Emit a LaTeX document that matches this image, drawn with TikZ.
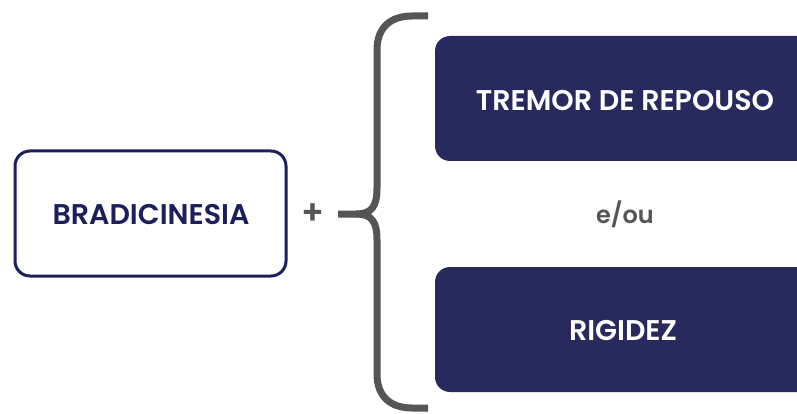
\documentclass[tikz,border=0pt]{standalone}
\usepackage{fontspec}
\newfontfamily\popm{Poppins SemiBold}
\begin{document}
\begin{tikzpicture}[x=1pt,y=-1pt,
  label/.style={font=\popm\fontsize{28.5}{32}\selectfont},
  ]
\definecolor{boxnavy}{HTML}{282A5E}
\definecolor{edgenavy}{HTML}{1D1F5C}
\definecolor{bracegray}{HTML}{555555}
\useasboundingbox (0,0) rectangle (797,414);
\begin{scope}
\clip (0,0) rectangle (797,414);
% left outlined box
\draw[edgenavy, line width=3pt, rounded corners=15pt, fill=white]
  (15,151) rectangle (286,276);
\node[label, text=edgenavy] (brad) at (151,215) {BRADICINESIA};
% plus sign
\node[font=\popm\fontsize{34}{34}\selectfont, text=bracegray] (plus) at (313,214) {+};
% curly brace
\begin{scope}[draw=bracegray, line width=7pt, line cap=butt]
\draw (428,16) -- (412,16) .. controls (390,16) and (377,28) .. (377,50)
  -- (377,188) .. controls (377,206) and (372,214) .. (356,214) -- (338,214);
\draw (428,408) -- (412,408) .. controls (390,408) and (377,396) .. (377,374)
  -- (377,240) .. controls (377,222) and (372,214) .. (356,214);
\end{scope}
% filled boxes on the right
\fill[boxnavy, rounded corners=15pt] (435,36) rectangle (815,161);
\node[label, text=white] (tremor) at (625,101) {TREMOR DE REPOUSO};
\node[font=\popm\fontsize{24}{28}\selectfont, text=bracegray] (eou) at (625,214) {e/ou};
\fill[boxnavy, rounded corners=15pt] (435,267) rectangle (815,392);
\node[label, text=white] (rig) at (623,331) {RIGIDEZ};
\end{scope}
\end{tikzpicture}
\end{document}
